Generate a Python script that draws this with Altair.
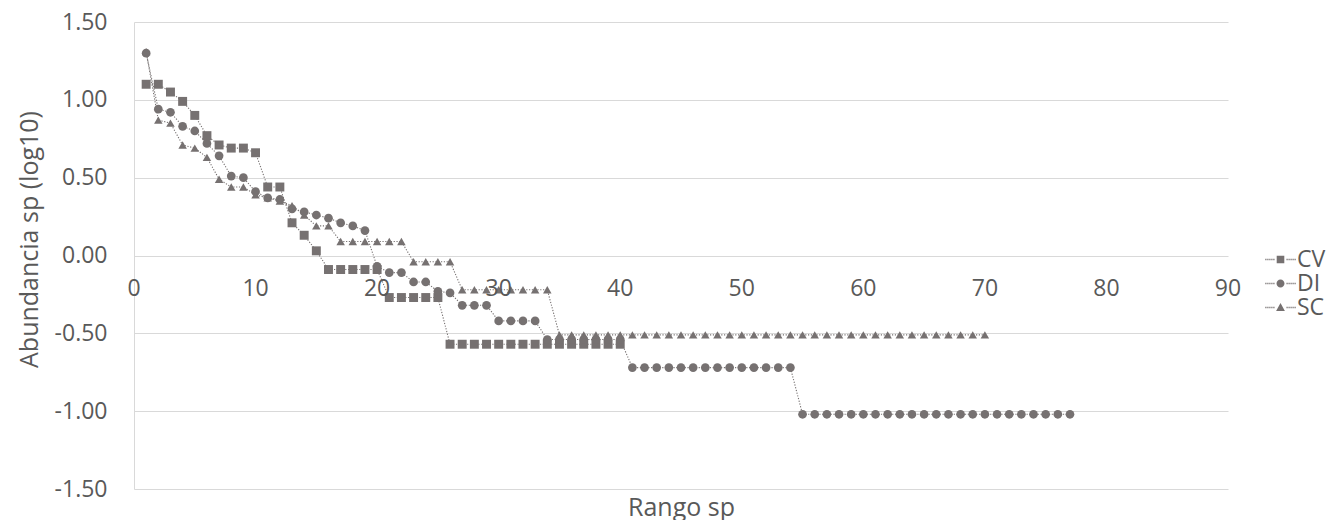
import altair as alt
import pandas as pd

# ---------------- data ----------------
series_names = ["CV", "DI", "SC"]

cv_values = [1.10, 1.10, 1.05, 0.99, 0.90, 0.77, 0.71, 0.69, 0.69, 0.66,
             0.44, 0.44, 0.21, 0.13, 0.03, -0.09, -0.09, -0.09, -0.09, -0.09,
             -0.27, -0.27, -0.27, -0.27, -0.27,
             -0.57, -0.57, -0.57, -0.57, -0.57, -0.57, -0.57, -0.57, -0.57, -0.57,
             -0.57, -0.57, -0.57, -0.57, -0.57]

di_values = [1.30, 0.94, 0.92, 0.83, 0.80, 0.72, 0.64, 0.51, 0.50, 0.41,
             0.37, 0.36, 0.30, 0.28, 0.26, 0.24, 0.21, 0.19, 0.16, -0.07,
             -0.11, -0.11, -0.17, -0.17, -0.23, -0.24, -0.32, -0.32, -0.32, -0.42,
             -0.42, -0.42, -0.42, -0.54, -0.54, -0.54, -0.54, -0.54, -0.54, -0.54,
             -0.72, -0.72, -0.72, -0.72, -0.72, -0.72, -0.72, -0.72, -0.72, -0.72,
             -0.72, -0.72, -0.72, -0.72,
             -1.02, -1.02, -1.02, -1.02, -1.02, -1.02, -1.02, -1.02, -1.02, -1.02,
             -1.02, -1.02, -1.02, -1.02, -1.02, -1.02, -1.02, -1.02, -1.02, -1.02,
             -1.02, -1.02, -1.02]

sc_values = [1.31, 0.87, 0.85, 0.71, 0.69, 0.63, 0.49, 0.44, 0.44, 0.39,
             0.37, 0.35, 0.32, 0.26, 0.19, 0.19, 0.09, 0.09, 0.09, 0.09,
             0.09, 0.09, -0.04, -0.04, -0.04, -0.04,
             -0.22, -0.22, -0.22, -0.22, -0.22, -0.22, -0.22, -0.22,
             -0.51, -0.51, -0.51, -0.51, -0.51, -0.51, -0.51, -0.51, -0.51, -0.51,
             -0.51, -0.51, -0.51, -0.51, -0.51, -0.51, -0.51, -0.51, -0.51, -0.51,
             -0.51, -0.51, -0.51, -0.51, -0.51, -0.51, -0.51, -0.51, -0.51, -0.51,
             -0.51, -0.51, -0.51, -0.51, -0.51, -0.51]

x_ticks = [0, 10, 20, 30, 40, 50, 60, 70, 80, 90]
y_ticks = [-1.5, -1.0, -0.5, 0.0, 0.5, 1.0, 1.5]

rows = []
for name, vals in zip(series_names, [cv_values, di_values, sc_values]):
    for i, v in enumerate(vals, start=1):
        rows.append({"serie": name, "rango": i, "abund": v})
df = pd.DataFrame(rows)
ticks_df = pd.DataFrame({"rango": x_ticks})

# ---------------- styles ----------------
GRAY = "#767171"
TEXT = "#595959"
GRID = "#d9d9d9"
FONT = "Open Sans"
FS = 23
TFS = 25

W, H = 1094, 467
PAD_L, PAD_T = 134, 22

# legend symbols: dotted line + marker (custom paths, unit = sqrt(size)/2 px)
def dots(xs):
    return "".join(f"M{x:.2f},-0.16h0.3v0.32h-0.3Z" for x in xs)

left_dots = [-3.8, -3.3, -2.8, -2.3, -1.8]
right_dots = [1.5, 2.0, 2.5, 3.0, 3.5]
line_part = dots(left_dots) + dots(right_dots)
legend_paths = [
    line_part + "M-0.95,-0.95H0.95V0.95H-0.95Z",
    line_part + "M1,0A1,1,0,1,1,-1,0A1,1,0,1,1,1,0Z",
    line_part + "M0,-1.15L1.1,0.85H-1.1Z",
]

x_scale = alt.Scale(domain=[0, 90], nice=False, zero=False)
y_scale = alt.Scale(domain=[-1.5, 1.5], nice=False, zero=False)

x_enc = alt.X(
    "rango:Q",
    scale=x_scale,
    axis=alt.Axis(
        values=x_ticks, title="Rango sp", grid=False, domain=False, ticks=False,
        labels=False, titleY=26, titleBaseline="alphabetic", titleFontSize=TFS,
    ),
)
y_enc = alt.Y(
    "abund:Q",
    scale=y_scale,
    axis=alt.Axis(
        values=y_ticks, title="Abundancia sp (log10)", grid=True, gridColor=GRID,
        domain=True, domainColor=GRID, ticks=False, labelPadding=27,
        labelExpr="replace(format(datum.value, '.2f'), '\u2212', '-')",
        titleX=-97, titleY=217, titleBaseline="alphabetic", titleAlign="center",
        titleAngle=270, titleFontSize=TFS,
    ),
)

lines = alt.Chart(df).mark_line(
    color=GRAY, strokeWidth=1.1, strokeDash=[1.2, 1.6]
).encode(x=x_enc, y=y_enc, detail="serie:N", order="rango:Q")

points = alt.Chart(df).mark_point(filled=True, color=GRAY, opacity=1).encode(
    x=x_enc,
    y=y_enc,
    shape=alt.Shape("serie:N",
                    scale=alt.Scale(domain=series_names,
                                    range=["square", "circle", "triangle-up"]),
                    legend=None),
    size=alt.Size("serie:N",
                  scale=alt.Scale(domain=series_names, range=[80, 72, 90]),
                  legend=None),
)

# x tick labels sit on the y = 0 line (the horizontal axis crosses at 0)
x_labels = alt.Chart(ticks_df).mark_text(
    font=FONT, fontSize=FS, color=TEXT, baseline="alphabetic", align="center", dy=40
).encode(
    x=alt.X("rango:Q", scale=x_scale),
    y=alt.datum(0, scale=y_scale),
    text=alt.Text("rango:Q", format="d"),
)

legend_layer = alt.Chart(df).transform_filter("datum.rango < 0").mark_point(
    filled=True, color=GRAY, opacity=1
).encode(
    shape=alt.Shape(
        "serie:N",
        scale=alt.Scale(domain=series_names, range=legend_paths),
        legend=alt.Legend(
            title=None, orient="none", legendX=1135, legendY=226,
            symbolSize=64, symbolStrokeWidth=0, labelOffset=5,
            labelFont=FONT, labelFontSize=FS, labelColor=TEXT,
            rowPadding=0, padding=0,
        ),
    )
)

chart = alt.layer(lines, points, x_labels, legend_layer).resolve_scale(
    shape="independent", size="independent"
).resolve_legend(shape="independent").properties(
    width=W, height=H,
    autosize="none",
    padding={"left": PAD_L, "top": PAD_T, "right": 1330 - PAD_L - W, "bottom": 520 - PAD_T - H},
    background="white",
).configure_view(stroke=None).configure_axis(
    labelFont=FONT, labelFontSize=FS, labelColor=TEXT,
    titleFont=FONT, titleColor=TEXT, titleFontWeight="normal",
)

chart.save("out.html", embed_options={"renderer": "svg", "actions": False})
